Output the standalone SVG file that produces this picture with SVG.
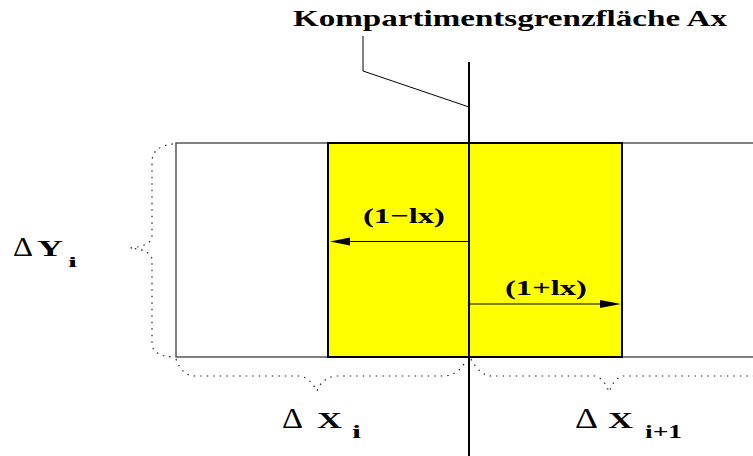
<svg xmlns="http://www.w3.org/2000/svg" width="753" height="456" viewBox="0 0 753 456">
<style>
.t{font-family:"Liberation Serif","Times New Roman",serif;font-weight:bold;fill:#000}
.d{font-family:"Liberation Serif","Times New Roman",serif;font-weight:normal;fill:#000}
.brace{fill:none;stroke:#222;stroke-width:1.2;stroke-dasharray:1.5 5}
.ln{stroke:#000;fill:none}
</style>
<rect width="753" height="456" fill="#fff"/>
<g id="outer-cell">
<rect x="176" y="143" width="600" height="214" fill="none" stroke="#555" stroke-width="1.5"/>
</g>
<g id="yellow-cell">
<rect x="328" y="143" width="294" height="214" fill="#ffff00" stroke="#000" stroke-width="2"/>
</g>
<g id="connectors">
<line class="ln" x1="469" y1="62" x2="469" y2="456" stroke-width="2"/>
<polyline class="ln" points="363,36 363,71 469,107" stroke-width="1"/>
<line class="ln" x1="469" y1="241.5" x2="345" y2="241.5" stroke-width="1"/>
<polygon points="330,241.5 350,237.5 350,245.5" fill="#000"/>
<line class="ln" x1="469" y1="304" x2="605" y2="304" stroke-width="1"/>
<polygon points="621,304 600,300 600,308" fill="#000"/>
<path class="brace" d="M173 144 Q152 146 152 162 L152 236 Q152 246 130 248 Q152 250 152 260 L152 343 Q152 356 173 357"/>
<path class="brace" d="M176 359 Q182 376 195 376 L300 376 Q310 378 317 391 Q322 378 335 376 L445 376 Q460 374 466 360"/>
<path class="brace" d="M471 359 Q480 376 492 376 L595 376 Q604 378 609 392 Q614 378 623 376 L760 376"/>
</g>
<g id="title">
<text class="t" x="293" y="26" font-size="24" textLength="434" lengthAdjust="spacingAndGlyphs">Kompartimentsgrenzfläche Ax</text>
</g>
<g id="label-minus">
<text class="t" x="363" y="223" font-size="22" textLength="82" lengthAdjust="spacingAndGlyphs">(1−lx)</text>
</g>
<g id="label-plus">
<text class="t" x="505" y="295" font-size="22" textLength="82" lengthAdjust="spacingAndGlyphs">(1+lx)</text>
</g>
<g id="label-dy">
<text class="d" x="13" y="256" font-size="28" textLength="20" lengthAdjust="spacingAndGlyphs">Δ</text>
<text class="t" x="37" y="256" font-size="23" textLength="26" lengthAdjust="spacingAndGlyphs">Y</text>
<text class="t" x="68" y="267" font-size="14" textLength="9" lengthAdjust="spacingAndGlyphs">i</text>
</g>
<g id="label-dxi">
<text class="d" x="282" y="428" font-size="29" textLength="21" lengthAdjust="spacingAndGlyphs">Δ</text>
<text class="t" x="317" y="428" font-size="23" textLength="25" lengthAdjust="spacingAndGlyphs">X</text>
<text class="t" x="352" y="438" font-size="19" textLength="9" lengthAdjust="spacingAndGlyphs">i</text>
</g>
<g id="label-dxi1">
<text class="d" x="575" y="428" font-size="29" textLength="23" lengthAdjust="spacingAndGlyphs">Δ</text>
<text class="t" x="608" y="428" font-size="23" textLength="25" lengthAdjust="spacingAndGlyphs">X</text>
<text class="t" x="645" y="438" font-size="19" textLength="37" lengthAdjust="spacingAndGlyphs">i+1</text>
</g>
</svg>
